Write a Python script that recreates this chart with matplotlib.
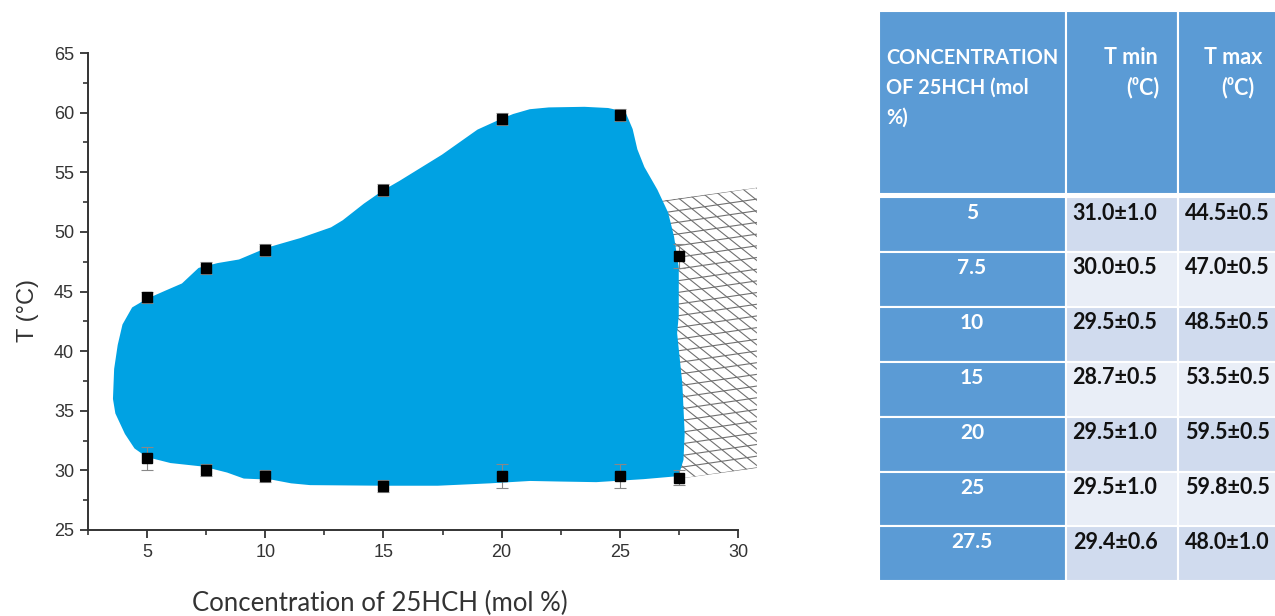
import numpy as np
import matplotlib
matplotlib.use('Agg')
import matplotlib.pyplot as plt
from matplotlib.patches import Polygon, Rectangle
from matplotlib.ticker import MultipleLocator

# measured transition temperatures
conc = [5, 7.5, 10, 15, 20, 25, 27.5]
t_min = [31.0, 30.0, 29.5, 28.7, 29.5, 29.5, 29.4]
t_min_err = [1.0, 0.5, 0.5, 0.5, 1.0, 1.0, 0.6]
t_max = [44.5, 47.0, 48.5, 53.5, 59.5, 59.8, 48.0]
t_max_err = [0.5, 0.5, 0.5, 0.5, 0.5, 0.5, 1.0]

# outline of the gel region (conc, T)
region_x = [3.6, 3.65, 3.8, 4.0, 4.4, 5.0, 5.8, 6.5, 7.2, 8.0, 8.9, 10.1, 11.5,
            12.8, 13.3, 14.2, 15.0, 15.7, 17.5, 19.0, 20.0, 20.5, 21.2, 22.0,
            23.5, 24.5, 25.2, 25.5, 25.7, 26.0, 26.55, 27.0, 27.25, 27.45,
            27.45, 27.38, 27.6, 27.7, 27.65, 27.45,
            26.0, 24.0, 22.5, 21.2, 19.5, 17.3, 15.0, 11.9, 11.1, 10.3, 9.1,
            8.4, 7.4, 6.0, 5.0, 4.5, 4.1, 3.7]
region_t = [36.0, 38.5, 40.5, 42.2, 43.6, 44.3, 45.0, 45.6, 46.9, 47.3, 47.6,
            48.6, 49.4, 50.3, 50.9, 52.3, 53.4, 54.2, 56.4, 58.5, 59.4, 59.8,
            60.2, 60.35, 60.4, 60.3, 60.0, 58.6, 56.9, 55.4, 53.5, 51.6, 49.6,
            47.0, 43.0, 41.5, 37.3, 33.1, 30.9, 29.6,
            29.35, 29.1, 29.15, 29.2, 29.0, 28.8, 28.8, 28.85, 29.0, 29.3, 29.4,
            29.9, 30.4, 30.7, 31.2, 31.9, 33.1, 34.8]

# hatched region to the right of the gel area
hatch_x = [26.0, 30.8, 30.8, 27.5]
hatch_t = [52.4, 53.7, 30.2, 29.3]

fig = plt.figure(figsize=(12.75, 6.16), dpi=100)
ax = fig.add_axes([88 / 1275, 1 - 530 / 616, 650 / 1275, 477 / 616])

# cross hatching drawn as two families of lines clipped to the polygon
hpoly = Polygon(np.column_stack([hatch_x, hatch_t]), closed=True,
                facecolor='none', edgecolor='none', clip_on=False)
ax.add_patch(hpoly)
xs = np.array([24.0, 33.0])
for c in np.arange(20.0, 56.0, 0.98):
    ln, = ax.plot(xs, c + 0.29 * (xs - 26.0), color='#707070', lw=0.8, zorder=1)
    ln.set_clip_path(hpoly)
    ln.set_clip_box(None)
for x0 in np.arange(5.0, 45.0, 0.64):
    ln, = ax.plot(xs, 56.0 - 1.58 * (xs - x0), color='#707070', lw=0.8, zorder=1)
    ln.set_clip_path(hpoly)
    ln.set_clip_box(None)

region = Polygon(np.column_stack([region_x, region_t]), closed=True,
                 facecolor='#00a2e3', edgecolor='#00a2e3', lw=1.5,
                 joinstyle='round', zorder=2)
ax.add_patch(region)

for vals, errs in [(t_min, t_min_err), (t_max, t_max_err)]:
    ax.errorbar(conc, vals, yerr=errs, fmt='s', color='black', ms=7,
                ecolor='#888888', elinewidth=0.8, capsize=4, capthick=0.8,
                zorder=4)

ax.set_xlim(2.5, 30)
ax.set_ylim(25, 65)
ax.xaxis.set_major_locator(MultipleLocator(5))
ax.xaxis.set_minor_locator(MultipleLocator(2.5))
ax.yaxis.set_major_locator(MultipleLocator(5))
ax.yaxis.set_minor_locator(MultipleLocator(2.5))
ax.set_xticks([5, 10, 15, 20, 25, 30])
for s in ['top', 'right']:
    ax.spines[s].set_visible(False)
for s in ['left', 'bottom']:
    ax.spines[s].set_color('#333333')
    ax.spines[s].set_linewidth(1.4)
ax.tick_params(which='major', direction='out', length=6, width=1.3,
               color='#333333', labelsize=13, labelcolor='#333333', pad=4)
ax.tick_params(which='minor', direction='out', length=3.5, width=1.2,
               color='#333333')
for lab in ax.get_xticklabels() + ax.get_yticklabels():
    lab.set_family('Liberation Sans')

fig.text(28 / 1275, 1 - 311 / 616, 'T (°C)', rotation=90, ha='center',
         va='center', fontsize=17, color='#333333', family='Liberation Sans')
fig.text(380 / 1275, 1 - 603 / 616, 'Concentration of 25HCH (mol %)',
         ha='center', va='center', fontsize=18.5, color='#333333', family='Lato')

# table drawn in pixel coordinates
tax = fig.add_axes([0, 0, 1, 1])
tax.set_xlim(0, 1275)
tax.set_ylim(616, 0)
tax.axis('off')

header_blue = '#5b9bd5'
shade = ['#d0dbee', '#e9eef7']
col_edges = [879, 1066, 1178, 1300]
head_top, head_bot = 11, 194
row_top, row_h = 197, 54.9

for x0, x1 in zip(col_edges[:-1], col_edges[1:]):
    tax.add_patch(Rectangle((x0, head_top), x1 - x0, head_bot - head_top,
                            facecolor=header_blue, edgecolor='white', lw=1.5,
                            clip_on=False))

head_font = dict(family='Lato', weight='bold', color='white')
tax.text(886, 58, 'CONCENTRATION', ha='left', va='center', fontsize=14.3, **head_font)
tax.text(886, 88, 'OF 25HCH (mol', ha='left', va='center', fontsize=14.3, **head_font)
tax.text(886, 118, '%)', ha='left', va='center', fontsize=14.3, **head_font)
tax.text(1158, 58, 'T min', ha='right', va='center', fontsize=15.5, **head_font)
tax.text(1159, 88, '(⁰C)', ha='right', va='center', fontsize=15.5, **head_font)
tax.text(1233, 58, 'T max', ha='center', va='center', fontsize=15.5, **head_font)
tax.text(1238, 88, '(⁰C)', ha='center', va='center', fontsize=15.5, **head_font)

for i, c in enumerate(conc):
    top = row_top + i * row_h
    tax.add_patch(Rectangle((col_edges[0], top), col_edges[1] - col_edges[0],
                            row_h, facecolor=header_blue, edgecolor='white',
                            lw=1.5, clip_on=False))
    for x0, x1 in zip(col_edges[1:-1], col_edges[2:]):
        tax.add_patch(Rectangle((x0, top), x1 - x0, row_h,
                                facecolor=shade[i % 2], edgecolor='white',
                                lw=1.5, clip_on=False))
    tax.text(972, top + 16, f'{c:g}', ha='center', va='center',
             family='Lato', weight='bold', fontsize=15, color='white')
    tax.text(1115, top + 16, f'{t_min[i]:.1f}±{t_min_err[i]:.1f}', ha='center',
             va='center', family='Lato', weight='bold', fontsize=15.5,
             color='#111111')
    tax.text(1227, top + 16, f'{t_max[i]:.1f}±{t_max_err[i]:.1f}', ha='center',
             va='center', family='Lato', weight='bold', fontsize=15.5,
             color='#111111')

fig.savefig('out.png', dpi=100)
